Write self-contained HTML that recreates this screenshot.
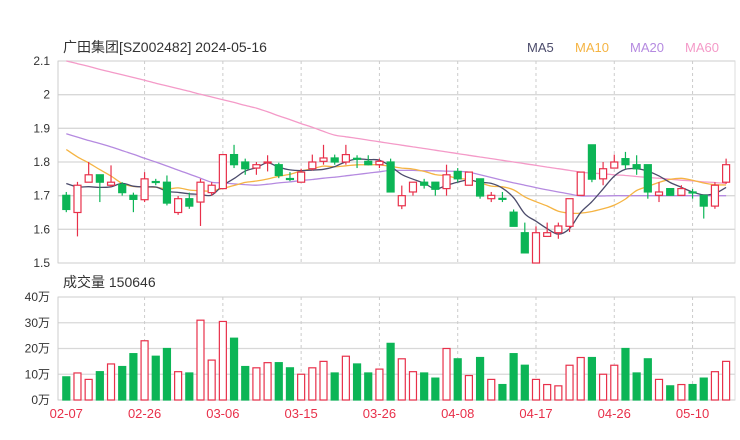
<!DOCTYPE html>
<html><head><meta charset="utf-8">
<style>
html,body{margin:0;padding:0;background:#fff;}
svg{display:block;font-family:"Liberation Sans","Noto Sans CJK SC",sans-serif;}
</style></head>
<body>
<svg id="chart" width="740" height="440" viewBox="0 0 740 440" xmlns="http://www.w3.org/2000/svg">
<text x="63" y="52" font-size="14" fill="#333">广田集团[SZ002482] 2024-05-16</text>
<g font-size="13">
<text x="527" y="52" fill="#4b4b6b">MA5</text>
<text x="575" y="52" fill="#f5b443">MA10</text>
<text x="630" y="52" fill="#b58ae0">MA20</text>
<text x="685" y="52" fill="#f49ac8">MA60</text>
</g>
<text x="63" y="287" font-size="14" fill="#333">成交量 150646</text>
<g id="grid"></g>
<g id="marks"></g>
</svg>
<script>
const dates = ["02-07","02-26","03-06","03-15","03-26","04-08","04-17","04-26","05-10"];
const dateIdx = [0,7,14,21,28,35,42,49,56];
const priceTicks = [1.5,1.6,1.7,1.8,1.9,2,2.1];
const volTicks = [0,10,20,30,40];
const opens  = [1.701,1.65,1.74,1.762,1.731,1.733,1.701,1.688,1.742,1.74,1.65,1.691,1.681,1.709,1.721,1.822,1.80,1.782,1.799,1.792,1.751,1.74,1.78,1.802,1.812,1.80,1.811,1.802,1.792,1.80,1.67,1.711,1.74,1.74,1.721,1.772,1.731,1.75,1.691,1.692,1.651,1.59,1.50,1.579,1.59,1.609,1.701,1.851,1.75,1.782,1.81,1.792,1.792,1.701,1.721,1.701,1.711,1.701,1.669,1.74];
const closes = [1.659,1.731,1.762,1.74,1.74,1.709,1.689,1.75,1.740,1.678,1.691,1.669,1.74,1.731,1.822,1.792,1.78,1.792,1.80,1.76,1.750,1.77,1.80,1.812,1.80,1.822,1.810,1.792,1.802,1.711,1.70,1.74,1.731,1.719,1.762,1.75,1.77,1.699,1.701,1.691,1.609,1.53,1.59,1.59,1.61,1.691,1.77,1.749,1.78,1.80,1.792,1.78,1.711,1.711,1.701,1.721,1.710,1.669,1.731,1.792];
const highs  = [1.711,1.741,1.80,1.762,1.79,1.74,1.709,1.77,1.75,1.76,1.699,1.709,1.75,1.74,1.822,1.851,1.81,1.80,1.82,1.798,1.77,1.78,1.822,1.851,1.822,1.851,1.82,1.82,1.81,1.81,1.73,1.74,1.75,1.74,1.792,1.782,1.77,1.75,1.711,1.711,1.659,1.62,1.609,1.62,1.62,1.691,1.77,1.851,1.80,1.822,1.83,1.82,1.792,1.74,1.721,1.731,1.72,1.70,1.74,1.81];
const lows   = [1.651,1.579,1.74,1.681,1.726,1.70,1.651,1.681,1.731,1.671,1.643,1.661,1.61,1.70,1.721,1.782,1.762,1.762,1.772,1.752,1.743,1.74,1.775,1.792,1.792,1.792,1.782,1.79,1.782,1.711,1.66,1.70,1.721,1.70,1.70,1.74,1.731,1.691,1.681,1.681,1.609,1.53,1.50,1.579,1.572,1.592,1.701,1.74,1.731,1.782,1.78,1.762,1.691,1.681,1.70,1.70,1.691,1.632,1.661,1.735];
const volumes = [9,10.5,8,11,14,13,18,23,17,20,11,10.5,31,15.5,30.5,24,13,12.5,14.5,14.5,12.5,10,12.5,15,10.5,17,14,10.5,12,22,16,11,10.5,8.5,20,16,9.5,16.5,8,6,18,13.5,8,6,5.5,13.5,16.5,16.5,10,13.5,20,10.5,16,8,5.5,6,6,8.5,11,15];
const priorCloses = [1.95,1.94,1.94,1.93,1.93,1.78,1.76,1.75,1.731];
const ma20 = [1.884,1.874,1.864,1.855,1.845,1.834,1.823,1.811,1.800,1.788,1.776,1.764,1.752,1.740,1.738,1.735,1.733,1.731,1.734,1.738,1.741,1.745,1.748,1.752,1.755,1.759,1.763,1.767,1.771,1.775,1.775,1.775,1.774,1.774,1.773,1.772,1.770,1.762,1.754,1.746,1.738,1.731,1.724,1.717,1.711,1.705,1.699,1.699,1.699,1.700,1.700,1.700,1.700,1.700,1.700,1.700,1.700,1.700,1.700,1.700];
const ma60 = [2.100,2.092,2.084,2.075,2.067,2.059,2.051,2.043,2.034,2.026,2.018,2.010,2.001,1.993,1.985,1.977,1.968,1.960,1.949,1.937,1.926,1.914,1.903,1.891,1.880,1.875,1.870,1.865,1.860,1.855,1.850,1.845,1.840,1.835,1.830,1.825,1.820,1.815,1.810,1.805,1.800,1.795,1.790,1.785,1.780,1.775,1.770,1.767,1.765,1.762,1.760,1.757,1.754,1.752,1.749,1.746,1.744,1.741,1.739,1.736];

const NS="http://www.w3.org/2000/svg";
const L=58,R=735,PT=61,PB=263,VT=297,VB=400;
const N=closes.length;
const step=(R-L-6)/N;
const xAt=i=>L+4+step*(i+0.5)-1.3;
const yP=p=>PB-(p-1.5)/(2.1-1.5)*(PB-PT);
const yV=v=>VB-v/40*(VB-VT);
const RED="#e8304a",GREEN="#0cb556";
const grid=document.getElementById('grid'),marks=document.getElementById('marks');
function mk(tag,attrs,parent){const e=document.createElementNS(NS,tag);for(const k in attrs)e.setAttribute(k,attrs[k]);parent.appendChild(e);return e;}

let f1=mk('rect',{x:L,y:PT,width:R-L,height:PB-PT,fill:'none',stroke:'#ddd'},grid);


let f2=mk('rect',{x:L,y:VT,width:R-L,height:VB-VT,fill:'none',stroke:'#ddd'},grid);


priceTicks.forEach(p=>{
  const g=mk('line',{x1:L,x2:R,y1:yP(p),y2:yP(p),stroke:'#d8d8d8','stroke-width':1.3},grid);
  
  
  const t=mk('text',{x:50,y:yP(p)+4,'text-anchor':'end','font-size':12,fill:'#333'},grid);
  t.textContent=String(p);
  
  
});
volTicks.forEach(v=>{
  const g=mk('line',{x1:L,x2:R,y1:yV(v),y2:yV(v),stroke:'#d8d8d8','stroke-width':1.3},grid);
  
  
  const t=mk('text',{x:50,y:yV(v)+4,'text-anchor':'end','font-size':12,fill:'#333'},grid);
  t.textContent=v+'万';
  
  
});
mk('line',{x1:L,x2:L,y1:PT,y2:PB,stroke:'#ccc'},grid);
mk('line',{x1:L,x2:L,y1:VT,y2:VB,stroke:'#ccc'},grid);
dates.forEach((d,k)=>{
  const x=xAt(dateIdx[k]);
  if(k>0){
    const a=mk('line',{x1:x,x2:x,y1:PT,y2:PB,stroke:'#ccc','stroke-dasharray':'3,3'},grid);
    
    
    const b=mk('line',{x1:x,x2:x,y1:VT,y2:VB,stroke:'#ccc','stroke-dasharray':'3,3'},grid);
    
    
  }
  const t=mk('text',{x:x,y:418,'text-anchor':'middle','font-size':13,fill:RED},grid);
  t.textContent=d;
  
  
});

const all=priorCloses.concat(closes);
function ma(n){const out=[];for(let i=0;i<N;i++){let s=0;for(let j=0;j<n;j++)s+=all[i+9-j];out.push(s/n);}return out;}
const ma5=ma(5),ma10=ma(10);
function line(arr,color,name){
  const P=arr.map((v,i)=>[xAt(i),yP(v)]);
  let d='M'+P[0][0].toFixed(1)+','+P[0][1].toFixed(1);
  for(let i=0;i<P.length-1;i++){
    const p0=P[Math.max(i-1,0)],p1=P[i],p2=P[i+1],p3=P[Math.min(i+2,P.length-1)];
    const c1=[p1[0]+(p2[0]-p0[0])/6,p1[1]+(p2[1]-p0[1])/6];
    const c2=[p2[0]-(p3[0]-p1[0])/6,p2[1]-(p3[1]-p1[1])/6];
    d+=' C'+c1[0].toFixed(1)+','+c1[1].toFixed(1)+' '+c2[0].toFixed(1)+','+c2[1].toFixed(1)+' '+p2[0].toFixed(1)+','+p2[1].toFixed(1);
  }
  const p=mk('path',{d:d,fill:'none',stroke:color,'stroke-width':1.3},marks);
  
  
}
line(ma60,'#f49ac8','ma60-line');
line(ma20,'#b58ae0','ma20-line');
line(ma10,'#f5b443','ma10-line');
line(ma5,'#4b4b6b','ma5-line');

for(let i=0;i<N;i++){
  const up=closes[i]>=opens[i];
  const c=up?RED:GREEN;
  const x=xAt(i),w=7;
  const wk=mk('line',{x1:x,x2:x,y1:yP(highs[i]),y2:yP(lows[i]),stroke:c,'stroke-width':1.2},marks);
  
  
  const top=yP(Math.max(opens[i],closes[i])),bot=yP(Math.min(opens[i],closes[i]));
  const b=mk('rect',{x:x-w/2,y:top,width:w,height:Math.max(bot-top,1),fill:up?'#fff':c,stroke:c,'stroke-width':1.2},marks);
  
  
  const vt=yV(volumes[i]);
  const v=mk('rect',{x:x-w/2,y:vt,width:w,height:VB-vt,fill:up?'#fff':c,stroke:c,'stroke-width':1.2},marks);
  
  
}
</script>
</body></html>
